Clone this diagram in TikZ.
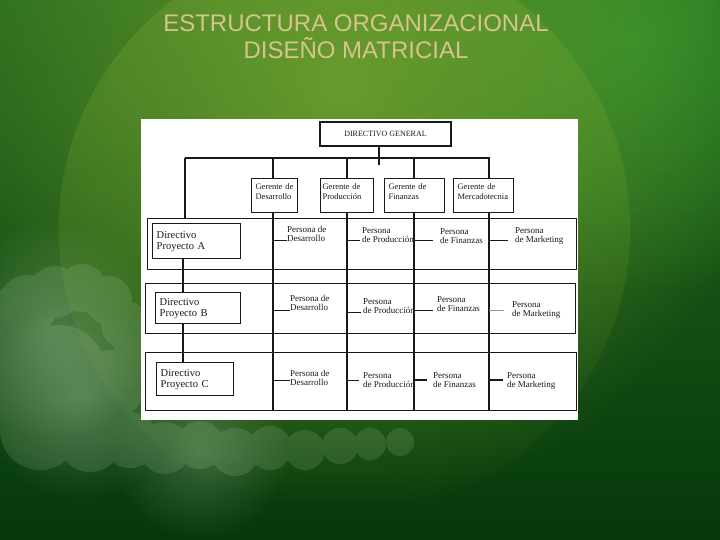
\documentclass[tikz,border=0pt]{standalone}
\usepackage{fontspec}
\setmainfont{Liberation Serif}
\newfontfamily\titlefont{Liberation Sans}
\usetikzlibrary{positioning, fadings}

\definecolor{bgtop}{RGB}{42,108,30}
\definecolor{bgmid}{RGB}{26,96,36}
\definecolor{bgdeep}{RGB}{5,56,12}
\definecolor{disktop}{RGB}{110,160,45}
\definecolor{bgglow}{RGB}{135,180,55}
\definecolor{bgbright}{RGB}{48,150,45}
\definecolor{cloud}{RGB}{200,225,190}
\definecolor{titletan}{RGB}{214,196,140}
\definecolor{ink}{RGB}{25,25,25}

\tikzfading[name=softedge, inner color=transparent!0, outer color=transparent!100]
\tikzfading[name=downfade, top color=transparent!0, bottom color=transparent!100]
\newcommand{\lastline}{\rule[-8pt]{0pt}{8pt}}

\begin{document}
\begin{tikzpicture}[x=1pt, y=-1pt, line join=miter, draw=ink, text=ink,
    frame/.style={draw, line width=1.1pt, inner sep=0pt, anchor=north west},
    dirbox/.style={draw, line width=1.4pt, inner xsep=4pt, inner ysep=0pt, align=left, anchor=north west, font=\fontsize{10.5}{11}\selectfont},
    gerbox/.style={draw, line width=1.2pt, inner xsep=4pt, inner ysep=0pt, align=left, anchor=north west, minimum height=34pt, font=\fontsize{8.5}{10}\selectfont},
    persona/.style={inner sep=0pt, anchor=north west, align=left, font=\fontsize{9}{9.5}\selectfont},
    link/.style={line width=1.1pt},
    tick/.style={line width=1pt}]

    \useasboundingbox (0,0) rectangle (720,540);

    % background
    \begin{scope}
        \clip (0,0) rectangle (720,540);
        \shade[top color=bgtop, middle color=bgmid, bottom color=bgdeep] (0,0) rectangle (720,540);
        \fill[bgbright, opacity=0.7, path fading=softedge] (640,40) circle (260pt);
        \fill[disktop, opacity=0.4, path fading=downfade] (345,228) circle (286pt);
        \fill[bgglow, opacity=0.6, path fading=softedge] (345,90) circle (420pt);
        % clouds, lower left
        \fill[cloud, opacity=0.14] \foreach \cx/\cy/\r in {0/330/40, 28/305/30, 55/292/26, 82/288/24, 108/300/24,
                125/325/24, 135/355/22, 10/380/45, 60/370/45, 110/385/35, 40/430/40, 90/440/32,
                130/440/28, 165/448/26, 200/445/24, 235/452/24, 270/448/22, 305/450/20, 340/446/18,
                370/444/16, 400/442/14} {(\cx,\cy) circle (\r pt)};
        \foreach \cx/\cy/\r in {50/330/110, 80/400/100, 200/450/90}
            \fill[cloud, opacity=0.25, path fading=softedge] (\cx,\cy) circle (\r pt);
    \end{scope}

    % title
    \node[font=\titlefont\fontsize{24}{27}\selectfont, text=titletan, align=center] (title) at (356,37)
        {ESTRUCTURA ORGANIZACIONAL\\DISEÑO MATRICIAL};

    % panel
    \fill[white] (141,119) rectangle (578,420);

    % top of the chart
    \node[draw, line width=1.2pt, minimum width=131pt, minimum height=24pt, font=\fontsize{8}{9}\selectfont] (dg) at (385.5,134) {DIRECTIVO GENERAL};

    \node[gerbox, text width=38pt] (gdes) at (251,178) {Gerente de\\Desarrollo\lastline};
    \node[gerbox, inner xsep=2pt, text width=49pt] (gpro) at (320,178) {Gerente de\\Producción\lastline};
    \node[gerbox, text width=52pt] (gfin) at (384,178) {Gerente de\\Finanzas\lastline};
    \node[gerbox, text width=52pt] (gmer) at (453,178) {Gerente de\\Mercadotecnia\lastline};

    % project rows
    \node[frame, minimum width=429pt, minimum height=51pt] (rowA) at (147,218) {};
    \node[frame, minimum width=430pt, minimum height=50pt] (rowB) at (145,283) {};
    \node[frame, minimum width=431pt, minimum height=58pt] (rowC) at (145,352) {};

    \node[dirbox, text width=80pt, minimum height=35pt] (dirA) at (152,223) {Directivo\\Proyecto A};
    \node[dirbox, text width=77pt, minimum height=31pt] (dirB) at (155,292) {Directivo\\Proyecto B};
    \node[dirbox, text width=69pt, minimum height=33pt] (dirC) at (156,362) {Directivo\\Proyecto C};

    \node[persona] (pA1) at (287,226) {Persona de\\Desarrollo};
    \node[persona] (pA2) at (362,227) {Persona\\de Producción};
    \node[persona] (pA3) at (440,228) {Persona\\de Finanzas};
    \node[persona] (pA4) at (515,227) {Persona\\de Marketing};

    \node[persona] (pB1) at (290,295) {Persona de\\Desarrollo};
    \node[persona] (pB2) at (363,298) {Persona\\de Producción};
    \node[persona] (pB3) at (437,296) {Persona\\de Finanzas};
    \node[persona] (pB4) at (512,301) {Persona\\de Marketing};

    \node[persona] (pC1) at (290,370) {Persona de\\Desarrollo};
    \node[persona] (pC2) at (363,372) {Persona\\de Producción};
    \node[persona] (pC3) at (433,372) {Persona\\de Finanzas};
    \node[persona] (pC4) at (507,372) {Persona\\de Marketing};

    \coordinate (bus-l) at (185,158);
    \coordinate (bus-r) at (490,158);
    \coordinate (stub) at (379,165);
    \coordinate (spine) at (183,300);
    \coordinate (v1) at (273,410);
    \coordinate (v2) at (347,410);
    \coordinate (v3) at (414,410);
    \coordinate (v4) at (489,410);

    % lines
    \draw[link] (bus-l) -- (bus-r);
    \draw[link] (stub |- dg.south) -- (stub);
    \draw[link] (bus-l) -- (bus-l |- rowA.north);
    \draw[link] (v1 |- bus-l) -- (v1 |- gdes.north);
    \draw[link] (v2 |- bus-l) -- (v2 |- gpro.north);
    \draw[link] (v3 |- bus-l) -- (v3 |- gfin.north);
    \draw[link] (v4 |- bus-l) -- (v4 |- gmer.north);

    \draw[link] (v1 |- gdes.south) -- (v1);
    \draw[link] (v2 |- gpro.south) -- (v2);
    \draw[link] (v3 |- gfin.south) -- (v3);
    \draw[link] (v4 |- gmer.south) -- (v4);

    \draw[link] (spine |- dirA.south) -- (spine |- dirB.north);
    \draw[link] (spine |- dirB.south) -- (spine |- dirC.north);

    \draw[tick] (v1 |- 0,240) -- (pA1.west |- 0,240);
    \draw[tick] (v2 |- 0,240) -- ([xshift=-2pt]pA2.west |- 0,240);
    \draw[tick] (v3 |- 0,240) -- ([xshift=-7pt]pA3.west |- 0,240);
    \draw[tick] (v4 |- 0,240) -- ([xshift=-7pt]pA4.west |- 0,240);

    \draw[tick] (v1 |- 0,310) -- (pB1.west |- 0,310);
    \draw[tick] (v2 |- 0,312) -- ([xshift=-2pt]pB2.west |- 0,312);
    \draw[tick] (v3 |- 0,310) -- ([xshift=-4pt]pB3.west |- 0,310);
    \draw[tick, ink!45] (v4 |- 0,310) -- ([xshift=-8pt]pB4.west |- 0,310);

    \draw[tick] (v1 |- 0,380) -- (pC1.west |- 0,380);
    \draw[tick] (v2 |- 0,380) -- ([xshift=-4pt]pC2.west |- 0,380);
    \draw[tick, line width=2pt] (v3 |- 0,380) -- ([xshift=-6pt]pC3.west |- 0,380);
    \draw[tick, line width=1.6pt] (v4 |- 0,380) -- ([xshift=-4pt]pC4.west |- 0,380);
\end{tikzpicture}
\end{document}
